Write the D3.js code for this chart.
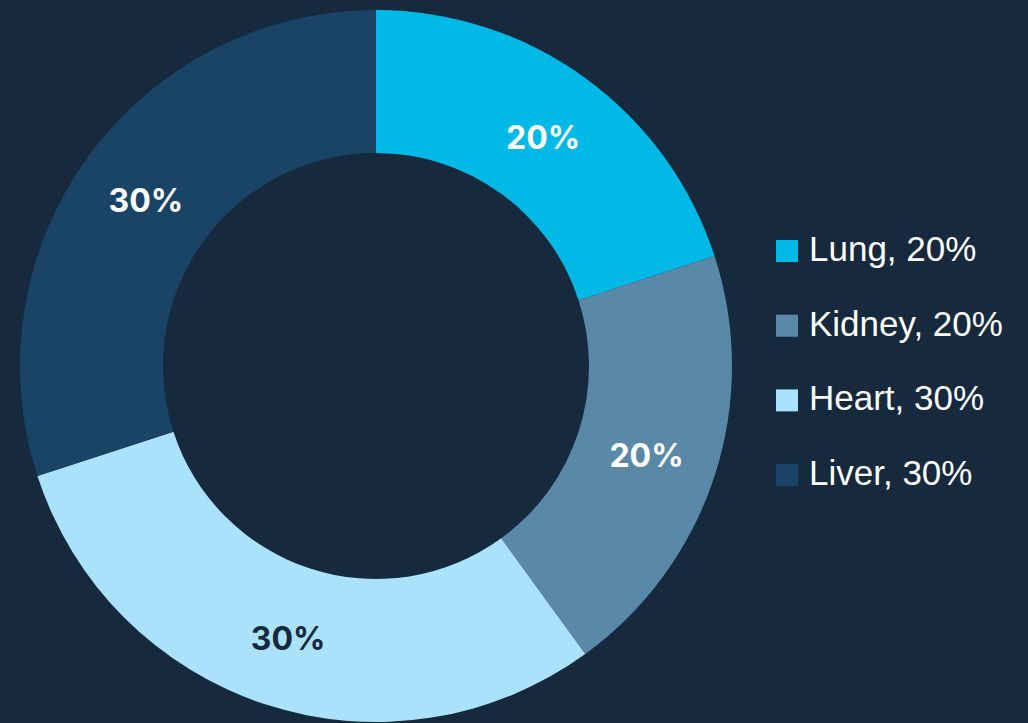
<!DOCTYPE html>
<html>
<head>
<meta charset="utf-8">
<script src="https://cdn.jsdelivr.net/npm/d3@7"></script>
<style>
  html, body { margin: 0; padding: 0; background: #16293d; }
  svg { display: block; }
</style>
</head>
<body>
<div class="plot"></div>
<script>
const organs = ['Lung', 'Kidney', 'Heart', 'Liver'];
const shares = [20, 20, 30, 30];
const colors = ['#00b9e7', '#5a89a8', '#a9e2fa', '#1a4466'];
const labelColors = ['#ffffff', '#ffffff', '#16293d', '#ffffff'];

const W = 1028, H = 723;
const cx = 376, cy = 366;
const outerR = 356, innerR = 213;

const data = organs.map((name, i) => ({ name, value: shares[i], color: colors[i], lc: labelColors[i] }));

const svg = d3.select('.plot')
    .append('svg')
    .attr('width', W)
    .attr('height', H);

svg.append('rect')
    .attr('width', W)
    .attr('height', H)
    .attr('fill', '#16293d');

const pie = d3.pie()
    .sort(null)
    .value(d => d.value);

const arc = d3.arc()
    .innerRadius(innerR)
    .outerRadius(outerR);

const g = svg.append('g')
    .attr('transform', `translate(${cx}, ${cy})`);

const slices = g.selectAll('g.slice')
    .data(pie(data))
    .enter()
    .append('g')
    .attr('class', 'slice');

slices.append('path')
    .attr('d', arc)
    .attr('fill', d => d.data.color);

// percentage labels on the ring
slices.append('text')
    .attr('transform', d => `translate(${arc.centroid(d)})`)
    .attr('text-anchor', 'middle')
    .attr('dy', '0.42em')
    .attr('font-family', 'Inter, "Liberation Sans", sans-serif')
    .attr('font-weight', 700)
    .attr('font-size', '32px')
    .attr('fill', d => d.data.lc)
    .text(d => d.data.value + '%');

// Legend
const legend = svg.append('g')
    .attr('id', 'legend')
    .attr('transform', 'translate(776, 251)');

const row = legend.selectAll('g')
    .data(data)
    .enter()
    .append('g')
    .attr('transform', (d, i) => `translate(0, ${i * 74.7})`);

row.append('rect')
    .attr('x', 0)
    .attr('y', -11)
    .attr('width', 22)
    .attr('height', 22)
    .attr('fill', d => d.color);

row.append('text')
    .attr('x', 33)
    .attr('dy', '0.28em')
    .attr('font-family', '"Liberation Sans", Arial, sans-serif')
    .attr('font-size', '35px')
    .attr('fill', '#ffffff')
    .text(d => `${d.name}, ${d.value}%`);
</script>
</body>
</html>
